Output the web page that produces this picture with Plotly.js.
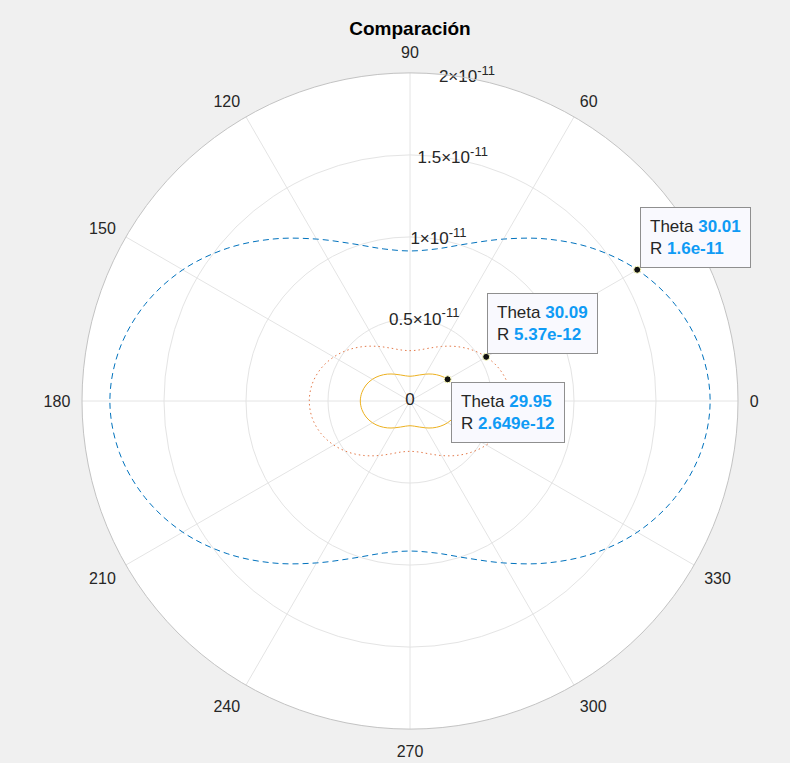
<!DOCTYPE html>
<html>
<head>
<meta charset="utf-8">
<script src="https://cdn.plot.ly/plotly-3.0.1.min.js"></script>
<style>
  html, body { margin: 0; padding: 0; background: #f0f0f0; }
  #chart { width: 790px; height: 763px; }
</style>
</head>
<body>
<div id="chart"></div>
<script>
// Angles (degrees) at which the three patterns were sampled
const thetaDeg = [0, 10, 20, 30, 40, 50, 60, 70, 80, 90, 100, 110, 120, 130, 140, 150, 160, 170, 180,
                  190, 200, 210, 220, 230, 240, 250, 260, 270, 280, 290, 300, 310, 320, 330, 340, 350, 360];

// Large pattern (dashed)
const rBlue = [1.83e-11, 1.80e-11, 1.72e-11, 1.60e-11, 1.45e-11, 1.29e-11, 1.14e-11, 1.02e-11, 0.942e-11, 0.915e-11,
               0.942e-11, 1.02e-11, 1.14e-11, 1.29e-11, 1.45e-11, 1.60e-11, 1.72e-11, 1.80e-11, 1.83e-11,
               1.80e-11, 1.72e-11, 1.60e-11, 1.45e-11, 1.29e-11, 1.14e-11, 1.02e-11, 0.942e-11, 0.915e-11,
               0.942e-11, 1.02e-11, 1.14e-11, 1.29e-11, 1.45e-11, 1.60e-11, 1.72e-11, 1.80e-11, 1.83e-11];

// Medium pattern (dotted)
const rOrange = [6.14e-12, 6.05e-12, 5.78e-12, 5.37e-12, 4.87e-12, 4.34e-12, 3.84e-12, 3.43e-12, 3.16e-12, 3.07e-12,
                 3.16e-12, 3.43e-12, 3.84e-12, 4.34e-12, 4.87e-12, 5.37e-12, 5.78e-12, 6.05e-12, 6.14e-12,
                 6.05e-12, 5.78e-12, 5.37e-12, 4.87e-12, 4.34e-12, 3.84e-12, 3.43e-12, 3.16e-12, 3.07e-12,
                 3.16e-12, 3.43e-12, 3.84e-12, 4.34e-12, 4.87e-12, 5.37e-12, 5.78e-12, 6.05e-12, 6.14e-12];

// Small pattern (solid)
const rYellow = [3.03e-12, 2.98e-12, 2.85e-12, 2.65e-12, 2.40e-12, 2.14e-12, 1.89e-12, 1.69e-12, 1.56e-12, 1.51e-12,
                 1.56e-12, 1.69e-12, 1.89e-12, 2.14e-12, 2.40e-12, 2.65e-12, 2.85e-12, 2.98e-12, 3.03e-12,
                 2.98e-12, 2.85e-12, 2.65e-12, 2.40e-12, 2.14e-12, 1.89e-12, 1.69e-12, 1.56e-12, 1.51e-12,
                 1.56e-12, 1.69e-12, 1.89e-12, 2.14e-12, 2.40e-12, 2.65e-12, 2.85e-12, 2.98e-12, 3.03e-12];

// Data tips
const tipTheta = [30.01, 30.09, 29.95];
const tipR = [1.6e-11, 5.37e-12, 2.649e-12];
const tipRText = ['1.6e-11', '5.37e-12', '2.649e-12'];

// Axis ticks
const angleTicks = [0, 30, 60, 90, 120, 150, 180, 210, 240, 270, 300, 330];
const radialTicks = [0, 0.5e-11, 1e-11, 1.5e-11, 2e-11];
const radialTickBase = ['0', '0.5×10', '1×10', '1.5×10', '2×10'];
const radialTickExp = ['', '-11', '-11', '-11', '-11'];
const radialLabelAngle = 80;
const rMax = 2e-11;

const W = 790, H = 763;
const margin = { l: 82, r: 52, t: 73, b: 34 };

const FONT = 'Liberation Sans, Arial, Helvetica, sans-serif';
const TXT = '#262626';
const TIPBLUE = '#0f9bf5';

const radialTickText = radialTickBase.map((b, i) =>
  radialTickExp[i] ? b + '<sup><span style="font-size:13px">' + radialTickExp[i] + '</span></sup>' : b);

const traces = [
  {
    type: 'scatterpolar', mode: 'lines', r: rBlue, theta: thetaDeg,
    line: { color: '#0072BD', width: 1, dash: '6px,4px', shape: 'spline' },
    hoverinfo: 'skip', showlegend: false
  },
  {
    type: 'scatterpolar', mode: 'lines', r: rOrange, theta: thetaDeg,
    line: { color: '#E0642C', width: 1, dash: '1.5px,3px', shape: 'spline' },
    opacity: 0.85,
    hoverinfo: 'skip', showlegend: false
  },
  {
    type: 'scatterpolar', mode: 'lines', r: rYellow, theta: thetaDeg,
    line: { color: '#EDB120', width: 1, shape: 'spline' },
    hoverinfo: 'skip', showlegend: false
  },
  {
    type: 'scatterpolar', mode: 'text', r: radialTicks,
    theta: radialTicks.map(() => radialLabelAngle),
    text: radialTickText, textposition: 'middle center',
    textfont: { family: FONT, size: 17, color: TXT },
    hoverinfo: 'skip', showlegend: false, cliponaxis: false
  },
  {
    type: 'scatterpolar', mode: 'markers', r: tipR, theta: tipTheta,
    marker: { color: '#111111', size: 7, line: { color: '#ffffc0', width: 1 } },
    hoverinfo: 'skip', showlegend: false, cliponaxis: false
  }
];

// Paper position of a polar point (the polar disc fills the square plot area)
function toPaper(r, thDeg) {
  const a = thDeg * Math.PI / 180;
  return {
    x: 0.5 + 0.5 * (r / rMax) * Math.cos(a),
    y: 0.5 + 0.5 * (r / rMax) * Math.sin(a)
  };
}

const tipPlacement = [
  { yanchor: 'bottom', xshift: 3, yshift: 2 },
  { yanchor: 'bottom', xshift: 1, yshift: 3 },
  { yanchor: 'top', xshift: 3, yshift: -3 }
];

const annotations = tipR.map((r, i) => {
  const p = toPaper(r, tipTheta[i]);
  return {
    xref: 'paper', yref: 'paper', x: p.x, y: p.y,
    xanchor: 'left', yanchor: tipPlacement[i].yanchor,
    xshift: tipPlacement[i].xshift, yshift: tipPlacement[i].yshift,
    showarrow: false, align: 'left',
    text: 'Theta <span style="color:' + TIPBLUE + '"><b>' + tipTheta[i].toFixed(2) + '</b></span><br>' +
          'R <span style="color:' + TIPBLUE + '"><b>' + tipRText[i] + '</b></span>',
    font: { family: FONT, size: 17, color: TXT },
    bgcolor: '#f9f9fe', bordercolor: '#8f8f8f', borderwidth: 1, borderpad: 9
  };
});

const layout = {
  width: W, height: H,
  margin: margin,
  paper_bgcolor: '#f0f0f0',
  font: { family: FONT, color: TXT },
  title: {
    text: '<b>Comparación</b>',
    font: { family: FONT, size: 19, color: '#000000' },
    x: 0.5 + (410 - W / 2) / W, xanchor: 'center',
    y: 1 - 28 / H, yanchor: 'middle', yref: 'container'
  },
  showlegend: false,
  polar: {
    domain: { x: [0, 1], y: [0, 1] },
    bgcolor: '#ffffff',
    angularaxis: {
      rotation: 0, direction: 'counterclockwise',
      tickmode: 'array', tickvals: angleTicks, ticktext: angleTicks.map(String),
      ticks: 'outside', ticklen: 8, tickcolor: 'rgba(0,0,0,0)',
      tickfont: { family: FONT, size: 16, color: TXT },
      showline: true, linecolor: '#c3c3c3', linewidth: 1,
      showgrid: true, gridcolor: '#e4e4e4', gridwidth: 1
    },
    radialaxis: {
      range: [0, rMax], tickmode: 'array', tickvals: radialTicks.slice(1),
      showticklabels: false, ticks: '', showline: false,
      showgrid: true, gridcolor: '#e4e4e4', gridwidth: 1
    }
  },
  annotations: annotations
};

Plotly.newPlot('chart', traces, layout, { displayModeBar: false, staticPlot: true });
</script>
</body>
</html>
